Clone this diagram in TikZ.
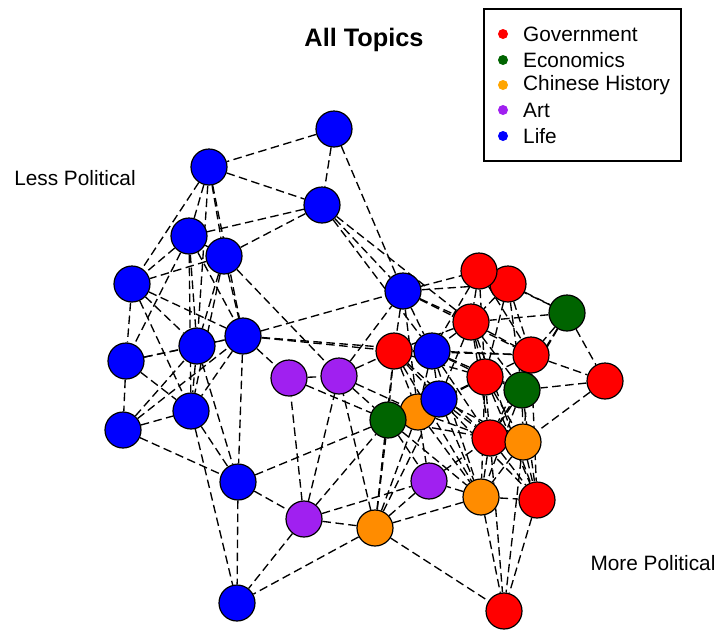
\documentclass[tikz,border=0pt]{standalone}
\usepackage{fontspec}
\setmainfont{Liberation Sans}
\usetikzlibrary{backgrounds}
\definecolor{cgov}{HTML}{FF0000}
\definecolor{ceco}{HTML}{006400}
\definecolor{chis}{HTML}{FF8C00}
\definecolor{clhis}{HTML}{FFA500}
\definecolor{cart}{HTML}{A020F0}
\definecolor{clife}{HTML}{0000FF}
\tikzset{
  vtx/.style={circle, draw=black, line width=1.2pt, minimum size=36pt, inner sep=0pt},
  gov/.style={vtx, fill=cgov},
  eco/.style={vtx, fill=ceco},
  his/.style={vtx, fill=chis},
  art/.style={vtx, fill=cart},
  life/.style={vtx, fill=clife},
  edge/.style={draw=black, line width=1.35pt, dash pattern=on 8.5pt off 4.5pt},
  lgdot/.style={circle, inner sep=0pt, minimum size=10pt},
  lgtxt/.style={anchor=west, font=\fontsize{20.8}{24}\selectfont, inner sep=0pt},
  side/.style={font=\fontsize{20.8}{24}\selectfont, inner sep=0pt}
}
\begin{document}
\begin{tikzpicture}[x=1pt,y=-1pt]
\useasboundingbox (0,0) rectangle (721,630);
% nodes
\node[life] (B1) at (334,129) {};
\node[life] (B2) at (209,167) {};
\node[life] (B3) at (322,205) {};
\node[life] (B4) at (189,236) {};
\node[life] (B5) at (224,256) {};
\node[life] (B6) at (132,284) {};
\node[life] (B8) at (243,336) {};
\node[life] (B9) at (197,346) {};
\node[life] (B10) at (126,361) {};
\node[life] (B11) at (191,411) {};
\node[life] (B12) at (123,430) {};
\node[life] (B13) at (238,482) {};
\node[life] (B14) at (237,603) {};
\node[art] (P1) at (289,378) {};
\node[art] (P2) at (339,376) {};
\node[art] (P3) at (429,481) {};
\node[art] (P4) at (304,519) {};
\node[his] (O4) at (375,528) {};
\node[his] (O3) at (481,497) {};
\node[gov] (R9) at (537,500) {};
\node[gov] (R10) at (504,611) {};
\node[gov] (R7) at (605,381) {};
\node[eco] (G1) at (567,313) {};
\node[gov] (R2) at (508,284) {};
\node[gov] (R1) at (479,271) {};
\node[life] (B7) at (403,291) {};
\node[gov] (R3) at (471,322) {};
\node[gov] (R5) at (531,355) {};
\node[gov] (R4) at (394,351) {};
\node[life] (B15) at (432,351) {};
\node[gov] (R6) at (485,377) {};
\node[eco] (G2) at (522,390) {};
\node[gov] (R8) at (490,438) {};
\node[his] (O2) at (523,442) {};
\node[his] (O1) at (418,412) {};
\node[eco] (G3) at (388,420) {};
\node[life] (B16) at (439,399) {};
% edges
\begin{scope}[on background layer]
\foreach \a/\b in {B1/B2,B1/B3,B1/B7,B2/B3,B2/B4,B2/B5,B2/B6,B2/B9,B2/B8,
  B3/B4,B3/B5,B3/B7,B3/R3,B3/B15,
  B4/B6,B4/B9,B4/B5,B4/B8,B4/B10,B4/B11,
  B5/B6,B5/B9,B5/B8,B5/P2,B5/B11,
  B6/B10,B6/B9,B6/B8,B6/B11,
  B10/B12,B10/B9,B10/B11,B10/B8,
  B12/B9,B12/B8,B12/B13,B12/B11,
  B9/B8,B9/B11,B9/B13,
  B8/B11,B8/B13,B8/P1,B8/B7,B8/R4,B8/B15,
  B11/B13,B11/B14,
  B13/B14,B13/G3,B13/P4,
  P4/O4,P4/B14,P4/P1,P4/P2,P4/G3,P4/P3,
  O4/B14,O4/G3,O4/P2,O4/P3,O4/O1,O4/B16,O4/O3,O4/R10,O4/R4,
  P1/P2,P1/G3,
  P2/R4,P2/B7,P2/G3,P2/O1,
  B7/R4,B7/O1,B7/R1,B7/R2,B7/R3,B7/B15,B7/R5,
  R1/R2,R1/R3,R1/G1,R1/R5,R1/R6,R1/B15,
  R2/G1,R2/R3,R2/R5,R2/R6,R2/G2,
  G1/R5,G1/R7,G1/G2,G1/R3,G1/R8,
  R3/R4,R3/B15,R3/R5,R3/R6,R3/G2,R3/B16,
  R4/B15,R4/G3,R4/O1,R4/R6,R4/R5,R4/B16,
  B15/R5,B15/R6,B15/O1,B15/G2,B15/R8,
  R5/R7,R5/G2,R5/R6,R5/O2,
  R6/G2,R6/R8,R6/O1,R6/B16,R6/O2,
  R7/G2,R7/O2,
  G2/R8,G2/O2,G2/R9,
  B16/O1,B16/G3,B16/R8,B16/O3,
  O1/G3,O1/P3,O1/R8,O1/O3,
  G3/P3,G3/R8,
  R8/O2,R8/O3,R8/R9,R8/R10,
  O2/R9,O2/O3,O2/R10,
  O3/R9,O3/R10,O3/P3,
  R9/R10,P3/R8,
  G3/O3,R4/O3,B15/O3,R6/O3,R6/R9,R5/R9,R3/R9,B16/R9,
  R3/R8,B15/B16,R4/R8,B16/O2,G2/O3,R5/R8}
  {\draw[edge] (\a) -- (\b);}
\end{scope}
% title and side labels
\node[font=\bfseries\fontsize{25.3}{30}\selectfont, inner sep=0pt] (title) at (364,40) {All Topics};
\node[side] (less) at (75,178) {Less Political};
\node[side] (more) at (653,563) {More Political};
% legend
\node[draw=black, line width=1.2pt, minimum width=197pt, minimum height=152pt, inner sep=0pt] (legend) at (582.5,85) {};
\node[lgdot, fill=cgov] (d1) at (503,34) {};
\node[lgdot, fill=ceco] (d2) at (503,60) {};
\node[lgdot, fill=clhis] (d3) at (503,85) {};
\node[lgdot, fill=cart] (d4) at (503,110) {};
\node[lgdot, fill=clife] (d5) at (503,136) {};
\node[lgtxt] (t1) at (523,34) {Government};
\node[lgtxt] (t2) at (523,60) {Economics};
\node[lgtxt] (t3) at (523,85) {Chinese History};
\node[lgtxt] (t4) at (523,110) {Art};
\node[lgtxt] (t5) at (523,136) {Life};
\end{tikzpicture}
\end{document}
